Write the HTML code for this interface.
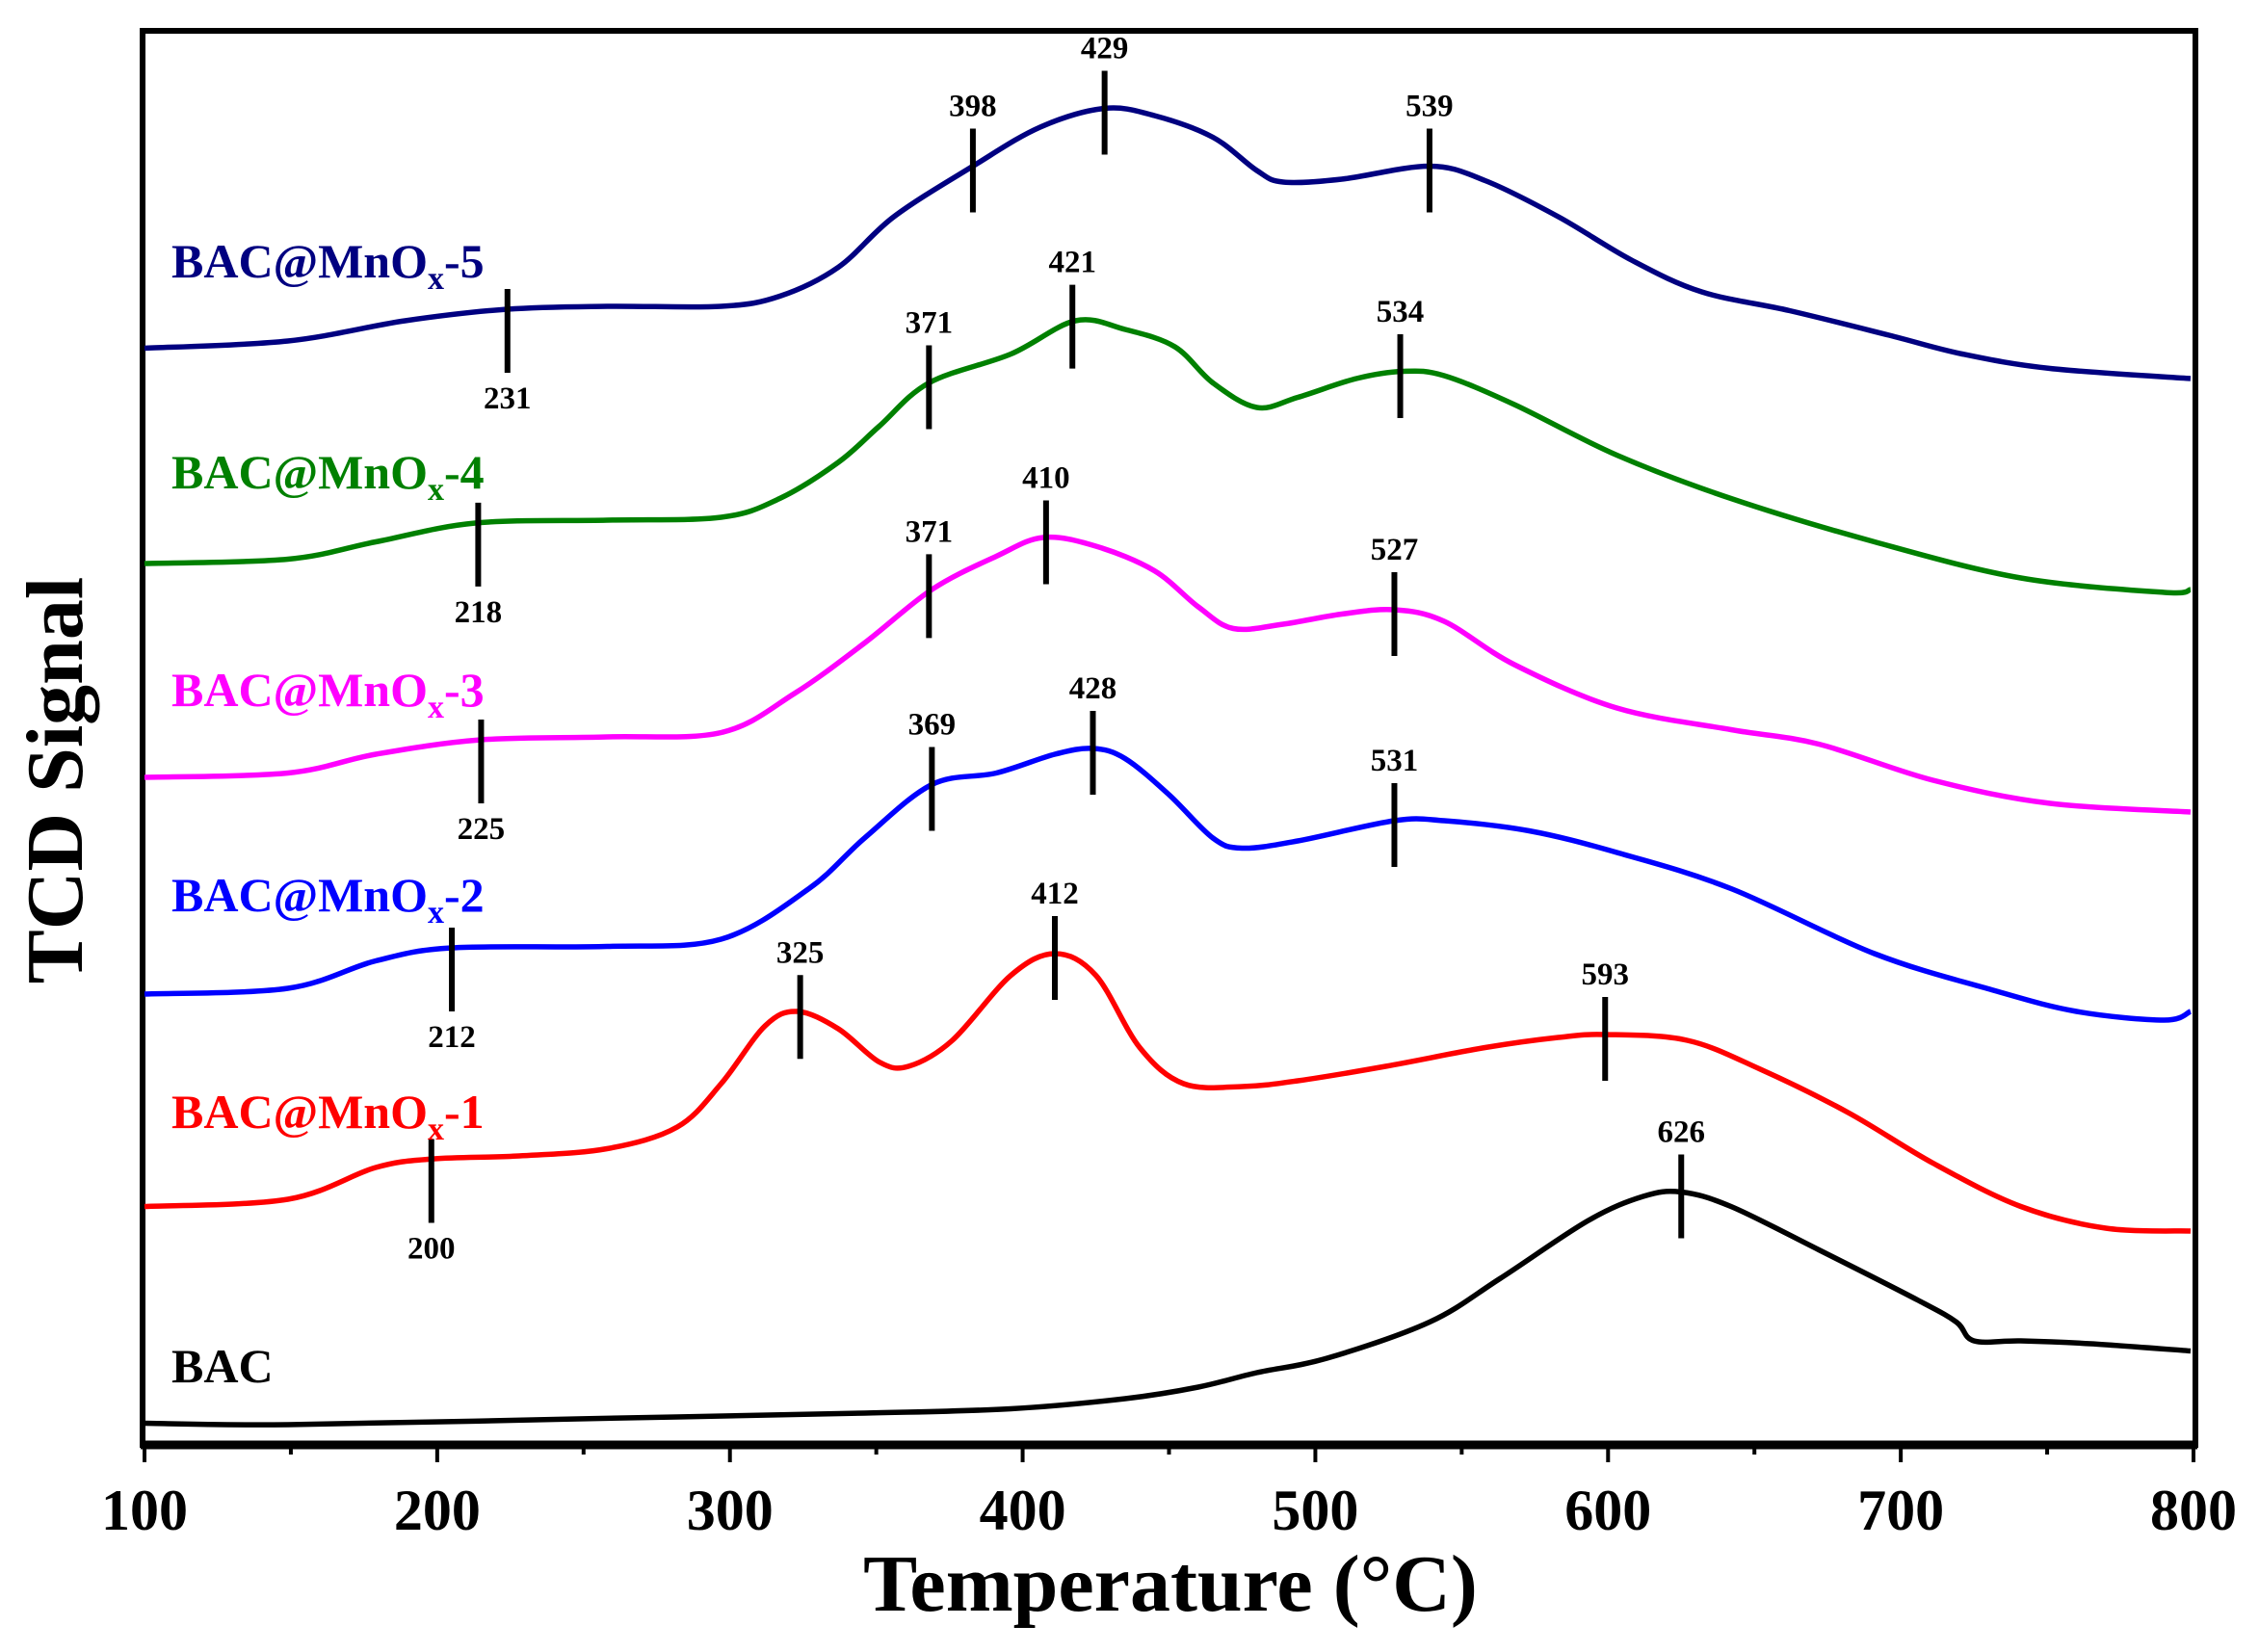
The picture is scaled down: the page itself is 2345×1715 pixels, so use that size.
<!DOCTYPE html>
<html><head><meta charset="utf-8"><style>
html,body{margin:0;padding:0;background:#fff;}
svg{display:block;}
text{font-family:"Liberation Serif",serif;font-weight:bold;}
</style></head><body>
<svg id="chart" width="2345" height="1715" viewBox="0 0 2345 1715" xmlns="http://www.w3.org/2000/svg">
<g id="plot"></g>
</svg>
<script>
// ---- data ----
const xTicks = [100,200,300,400,500,600,700,800];
const seriesNames = ["BAC@MnOx-5","BAC@MnOx-4","BAC@MnOx-3","BAC@MnOx-2","BAC@MnOx-1","BAC"];
const navyT = [100,149,189,224,258,297,317,337,356,383,406,428,445,465,480,489,509,539,558,583,608,632,662,696,721,751,799];
const navyS = [759,764,778,786,788,788,795,815,850,885,912,925,920,905,882,874,876,885,875,850,820,798,785,768,755,745,738];
const greenT = [100,149,179,213,258,297,317,337,351,368,396,418,435,452,465,480,494,514,530,544,568,603,642,691,741,790,799];
const greenS = [610,613,625,638,640,642,655,680,705,735,755,778,772,760,735,718,725,738,743,740,720,685,655,625,600,590,592];
const magentaT = [100,149,179,215,258,297,322,346,369,391,407,425,445,460,472,489,509,527,544,568,603,642,672,711,751,799];
const magentaS = [462,465,478,488,490,493,520,555,592,615,628,622,605,580,565,568,575,578,570,540,510,495,485,460,444,438];
const blueT = [100,149,179,205,258,297,327,346,369,391,411,424,435,450,465,475,494,527,544,573,603,642,691,731,760,790,799];
const blueS = [312,316,335,344,345,350,385,420,457,465,478,482,475,450,420,413,418,432,432,425,410,385,340,315,300,294,300];
const redT = [100,149,179,199,228,258,282,297,312,323,337,351,361,376,396,411,425,440,455,475,494,524,558,583,599,627,652,682,711,741,770,799];
const redS = [165,170,192,198,200,205,220,250,290,300,288,265,262,280,325,340,325,275,250,248,252,262,275,282,284,280,260,230,195,165,150,148];
const blackT = [100,149,248,346,396,435,460,480,504,539,563,593,612,625,642,672,706,719,725,741,765,799];
const blackS = [15,14,18,22,25,32,40,50,60,85,115,155,172,175,165,135,100,85,72,72,70,65];
const navyPeaksT = [224,383,428,539];
const navyPeakLabels = ["231","398","429","539"];
const greenPeaksT = [214,368,417,529];
const greenPeakLabels = ["218","371","421","534"];
const magentaPeaksT = [215,368,408,527];
const magentaPeakLabels = ["225","371","410","527"];
const bluePeaksT = [205,369,424,527];
const bluePeakLabels = ["212","369","428","531"];
const redPeaksT = [198,324,411,599];
const redPeakLabels = ["200","325","412","593"];
const blackPeaksT = [625];
const blackPeakLabels = ["626"];

// ---- axes ----
const X0=150, X1=2277, Yb=1500;
const xs = t => X0 + (t-100)*(X1-X0)/700;
const ys = s => Yb - s*1.5;
const NS="http://www.w3.org/2000/svg";
const plot=document.getElementById('plot');
function mk(tag,attrs,parent){const e=document.createElementNS(NS,tag);for(const k in attrs)e.setAttribute(k,attrs[k]);(parent||plot).appendChild(e);return e;}
function interp(T,S,t){for(let i=0;i<T.length-1;i++){if(t>=T[i]&&t<=T[i+1]){return S[i]+(S[i+1]-S[i])*(t-T[i])/(T[i+1]-T[i]);}}return S[S.length-1];}
function smoothPath(T,S){
  const p=T.map((t,i)=>[xs(t),ys(S[i])]);
  let d=`M${p[0][0]},${p[0][1]}`;
  for(let i=0;i<p.length-1;i++){
    const a=p[Math.max(0,i-1)],b=p[i],c=p[i+1],e=p[Math.min(p.length-1,i+2)];
    const c1=[b[0]+(c[0]-a[0])/6,b[1]+(c[1]-a[1])/6],c2=[c[0]-(e[0]-b[0])/6,c[1]-(e[1]-b[1])/6];
    d+=` C${c1[0]},${c1[1]} ${c2[0]},${c2[1]} ${c[0]},${c[1]}`;
  }
  return d;
}

// frame
const frame=mk('rect',{x:X0-2,y:32,width:X1-X0+4,height:Yb-32,fill:'none',stroke:'#000','stroke-width':6});


const bl=mk('line',{x1:X0-4,x2:X1+4,y1:Yb,y2:Yb,stroke:'#000','stroke-width':9});


for(let t=100;t<=800;t+=50){
  const major=(t%100===0);
  const tk=mk('line',{x1:xs(t),x2:xs(t),y1:Yb,y2:Yb+(major?18:10),stroke:'#000','stroke-width':4});
  
  
}
xTicks.forEach(t=>{
  const tx=mk('text',{x:xs(t),y:1588,'text-anchor':'middle','font-size':60,fill:'#000'});
  tx.textContent=t;
  
  
});
const xt=mk('text',{x:1215,y:1672,'text-anchor':'middle','font-size':84,fill:'#000'});
xt.textContent='Temperature (°C)';


const yt=mk('text',{x:0,y:0,'text-anchor':'middle','font-size':84,fill:'#000',transform:'translate(85,810) rotate(-90)'});
yt.textContent='TCD Signal';



// series
const series=[
 [navyT,navyS,'#000080',navyPeaksT,navyPeakLabels,[true,false,false,false],'series-bac-mnox-5'],
 [greenT,greenS,'#008000',greenPeaksT,greenPeakLabels,[true,false,false,false],'series-bac-mnox-4'],
 [magentaT,magentaS,'#ff00ff',magentaPeaksT,magentaPeakLabels,[true,false,false,false],'series-bac-mnox-3'],
 [blueT,blueS,'#0000ff',bluePeaksT,bluePeakLabels,[true,false,false,false],'series-bac-mnox-2'],
 [redT,redS,'#ff0000',redPeaksT,redPeakLabels,[true,false,false,false],'series-bac-mnox-1'],
 [blackT,blackS,'#000000',blackPeaksT,blackPeakLabels,[false],'series-bac']
];
const labelY=[288,507,733,946,1171,1435];
series.forEach((sr,i)=>{
  const [T,S,col,PT,PL,below,nm]=sr;
  const path=mk('path',{d:smoothPath(T,S),fill:'none',stroke:col,'stroke-width':5.5,'stroke-linejoin':'round'});
  
  
  PT.forEach((t,j)=>{
    const s=interp(T,S,t);
    const x=xs(t), yc=ys(s);
    const b=below[j];
    const y1=b?yc-21:yc-39, y2=b?yc+66:yc+48;
    const ln=mk('line',{x1:x,x2:x,y1:y1,y2:y2,stroke:'#000','stroke-width':6});
    
    
    const lt=mk('text',{x:x,y:b?y2+37:y1-13,'text-anchor':'middle','font-size':33,fill:'#000'});
    lt.textContent=PL[j];
    
    
  });
  const name=seriesNames[i];
  const st=mk('text',{x:178,y:labelY[i],'font-size':50,fill:col});
  
  
  if(name.indexOf('MnOx')>=0){
    const parts=name.split('MnOx');
    const a=document.createElementNS(NS,'tspan');a.textContent=parts[0]+'MnO';st.appendChild(a);
    const sub=document.createElementNS(NS,'tspan');sub.setAttribute('dy','12');sub.setAttribute('font-size','34');sub.textContent='x';st.appendChild(sub);
    const c=document.createElementNS(NS,'tspan');c.setAttribute('dy','-12');c.textContent=parts[1];st.appendChild(c);
  } else st.textContent=name;
});
</script>
</body></html>
